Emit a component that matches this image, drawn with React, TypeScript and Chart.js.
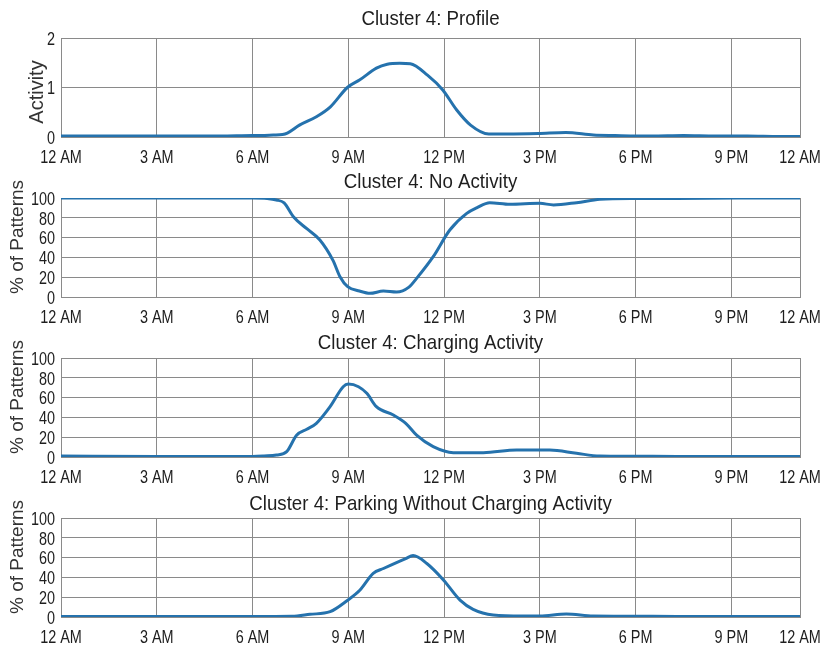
import React, { useEffect, useRef } from 'react';
import { Chart, registerables } from 'chart.js';

Chart.register(...registerables);

// The time axis runs from midnight to the last sample of the day;
// its right end carries the closing "12 AM" label.
const X_END = 23.15;
const hourTicks = [0, 3, 6, 9, 12, 15, 18, 21, X_END];
const hourLabels = ['12 AM', '3 AM', '6 AM', '9 AM', '12 PM', '3 PM', '6 PM', '9 PM', '12 AM'];

// Cluster 4: Profile (activity level)
const profileHours = [0, 1, 2, 3, 4, 5, 6, 6.27, 6.65, 6.94, 7.09, 7.47, 8.0, 8.44, 8.97, 9.35, 9.88, 10.22, 10.61, 10.94, 11.48, 11.96, 12.39, 12.83, 13.4, 13.98, 14.95, 15.81, 16.68, 17.36, 18.5, 19.5, 20.5, 21.5, 22.5, 23.15];
const profileValues = [0.02, 0.02, 0.02, 0.02, 0.02, 0.02, 0.03, 0.03, 0.04, 0.05, 0.08, 0.24, 0.41, 0.61, 1.0, 1.15, 1.39, 1.47, 1.49, 1.48, 1.25, 0.95, 0.55, 0.24, 0.06, 0.06, 0.07, 0.09, 0.04, 0.03, 0.02, 0.03, 0.02, 0.02, 0.01, 0.01];

// Cluster 4: No Activity (% of patterns)
const noActHours = [0, 3, 6, 6.46, 6.75, 6.99, 7.28, 7.7, 8.11, 8.52, 8.74, 8.98, 9.35, 9.68, 10.1, 10.51, 10.9, 11.14, 11.66, 12.18, 12.71, 13.02, 13.43, 14.06, 15.0, 15.43, 16.15, 16.88, 17.84, 19.3, 21.2, 23.15];
const noActValues = [100, 100, 100, 99.5, 98, 95, 81, 69, 57.6, 37, 20.5, 10.4, 6, 3.7, 6, 5, 10, 18.8, 40.7, 67.7, 84.5, 90, 95.3, 93.6, 94.6, 93, 95.3, 98.7, 99.5, 99.5, 100, 100];

// Cluster 4: Charging Activity (% of patterns)
const chargeHours = [0, 3, 6, 6.36, 6.75, 7.07, 7.38, 7.7, 8.0, 8.43, 8.84, 9.0, 9.32, 9.58, 9.88, 10.41, 10.8, 11.14, 11.66, 12.29, 13.23, 14.27, 15.31, 16.15, 16.88, 17.84, 19.3, 21.2, 23.15];
const chargeValues = [1, 0.5, 0.5, 1, 2, 5.4, 22, 28, 34, 50.8, 71, 73.7, 71, 64.3, 50.8, 42.4, 34, 22, 10.4, 4.4, 4.4, 7, 7, 3.7, 1, 0.8, 0.5, 0.5, 0.5];

// Cluster 4: Parking Without Charging Activity (% of patterns)
const parkHours = [0, 3, 6, 7.23, 7.8, 8.43, 8.98, 9.36, 9.78, 10.1, 10.51, 10.8, 11.03, 11.46, 11.98, 12.5, 12.91, 13.54, 14.46, 15.0, 15.83, 16.67, 17.84, 19.3, 21.2, 23.15];
const parkValues = [0.5, 0.5, 0.5, 0.7, 2.7, 5.4, 17, 27, 44, 49, 55, 59, 62, 54, 37.4, 17, 7.7, 2, 1, 1, 3, 1, 0.8, 0.5, 0.5, 0.5];

const SANS = '"Liberation Sans", Arial, sans-serif';
const LINE = '#2572ad';
const GRID = '#8a8a8a';
const TEXT = '#1e1e1e';

// Each panel canvas is taller than the 160px row so hour labels can spill
// into the next row; canvases are transparent, so overlap is harmless.
const ROW = 160;
const CANVAS_H = 178;
const PLOT_TOP = 38;
const PLOT_BOTTOM = 137;

// Condensed text: regular sans squeezed horizontally
function narrowText(
  ctx: CanvasRenderingContext2D,
  text: string,
  x: number,
  y: number,
  size: number,
  squeeze: number,
  align: 'left' | 'center' | 'right'
) {
  ctx.save();
  ctx.font = `${size}px ${SANS}`;
  ctx.textBaseline = 'alphabetic';
  const w = ctx.measureText(text).width * squeeze;
  let left = x;
  if (align === 'center') left = x - w / 2;
  if (align === 'right') left = x - w;
  ctx.translate(left, y);
  ctx.scale(squeeze, 1);
  ctx.textAlign = 'left';
  ctx.fillText(text, 0, 0);
  ctx.restore();
}

type PanelProps = {
  title: string;
  titleY: number;
  hours: number[];
  values: number[];
  yMax: number;
  yStep: number;
  yLabel: string;
  yLabelSize: number;
  yLabelX: number;
  yLabelY: number;
  top: number;
};

const TICK_SIZE = 19;
const TICK_SQUEEZE = 0.76;
const TICK_CAP = TICK_SIZE * 0.716;

function Panel(props: PanelProps) {
  const ref = useRef<HTMLCanvasElement | null>(null);

  useEffect(() => {
    const canvas = ref.current;
    if (!canvas) return;

    const captions = {
      id: 'captions',
      afterDraw(chart: any) {
        const { ctx, chartArea } = chart;
        const xs = chart.scales.x;
        const ys = chart.scales.y;
        ctx.save();
        ctx.fillStyle = TEXT;

        // hour labels under the x axis
        xs.ticks.forEach((t: any, i: number) => {
          const px = xs.getPixelForValue(t.value);
          narrowText(ctx, hourLabels[i] ?? '', px, chartArea.bottom + 26, TICK_SIZE, TICK_SQUEEZE, 'center');
        });

        // value labels left of the y axis
        ys.ticks.forEach((t: any) => {
          const py = ys.getPixelForValue(t.value);
          narrowText(ctx, String(t.value), chartArea.left - 6, py + TICK_CAP / 2, TICK_SIZE, TICK_SQUEEZE, 'right');
        });

        // panel title
        narrowText(ctx, props.title, (chartArea.left + chartArea.right) / 2, props.titleY + 7.5, 21, 0.89, 'center');

        // rotated y-axis title
        ctx.translate(props.yLabelX, props.yLabelY);
        ctx.rotate(-Math.PI / 2);
        ctx.fillStyle = '#333';
        ctx.font = `${props.yLabelSize}px ${SANS}`;
        ctx.textAlign = 'center';
        ctx.textBaseline = 'middle';
        ctx.fillText(props.yLabel, 0, 0);
        ctx.restore();
      },
    };

    const chart = new Chart(canvas, {
      type: 'line',
      data: {
        datasets: [
          {
            data: props.hours.map((h, i) => ({ x: h, y: props.values[i] })),
            borderColor: LINE,
            borderWidth: 3,
            pointRadius: 0,
            cubicInterpolationMode: 'monotone',
            fill: false,
          },
        ],
      },
      options: {
        responsive: false,
        animation: false,
        devicePixelRatio: 1,
        layout: { padding: { top: PLOT_TOP, right: 23, left: 0, bottom: 0 } },
        plugins: {
          legend: { display: false },
          tooltip: { enabled: false },
          title: { display: false },
        },
        scales: {
          x: {
            type: 'linear',
            min: 0,
            max: X_END,
            afterBuildTicks: (s: any) => {
              s.ticks = hourTicks.map((v) => ({ value: v }));
            },
            afterFit: (s: any) => {
              s.height = CANVAS_H - PLOT_BOTTOM;
            },
            grid: { color: GRID, lineWidth: 1, drawTicks: false },
            border: { color: GRID, width: 1 },
            ticks: { autoSkip: false, display: false },
          },
          y: {
            type: 'linear',
            min: 0,
            max: props.yMax,
            afterFit: (s: any) => {
              s.width = 61;
            },
            grid: { color: GRID, lineWidth: 1, drawTicks: false },
            border: { color: GRID, width: 1 },
            ticks: { stepSize: props.yStep, autoSkip: false, display: false },
          },
        },
      },
      plugins: [captions],
    });

    return () => chart.destroy();
  }, []);

  return (
    <canvas
      ref={ref}
      width={823}
      height={CANVAS_H}
      style={{ position: 'absolute', left: 0, top: props.top, width: 823, height: CANVAS_H }}
    />
  );
}

export default function App() {
  return (
    <div style={{ position: 'absolute', left: 0, top: 0, width: 823, height: 647, background: '#fff', overflow: 'hidden' }}>
      <Panel
        title="Cluster 4: Profile"
        titleY={17}
        hours={profileHours}
        values={profileValues}
        yMax={2}
        yStep={1}
        yLabel="Activity"
        yLabelSize={20}
        yLabelX={37}
        yLabelY={92}
        top={0}
      />
      <Panel
        title="Cluster 4: No Activity"
        titleY={20}
        hours={noActHours}
        values={noActValues}
        yMax={100}
        yStep={20}
        yLabel="% of Patterns"
        yLabelSize={19}
        yLabelX={18}
        yLabelY={77}
        top={ROW}
      />
      <Panel
        title="Cluster 4: Charging Activity"
        titleY={21}
        hours={chargeHours}
        values={chargeValues}
        yMax={100}
        yStep={20}
        yLabel="% of Patterns"
        yLabelSize={19}
        yLabelX={18}
        yLabelY={77}
        top={ROW * 2}
      />
      <Panel
        title="Cluster 4: Parking Without Charging Activity"
        titleY={22}
        hours={parkHours}
        values={parkValues}
        yMax={100}
        yStep={20}
        yLabel="% of Patterns"
        yLabelSize={19}
        yLabelX={18}
        yLabelY={77}
        top={ROW * 3}
      />
    </div>
  );
}
